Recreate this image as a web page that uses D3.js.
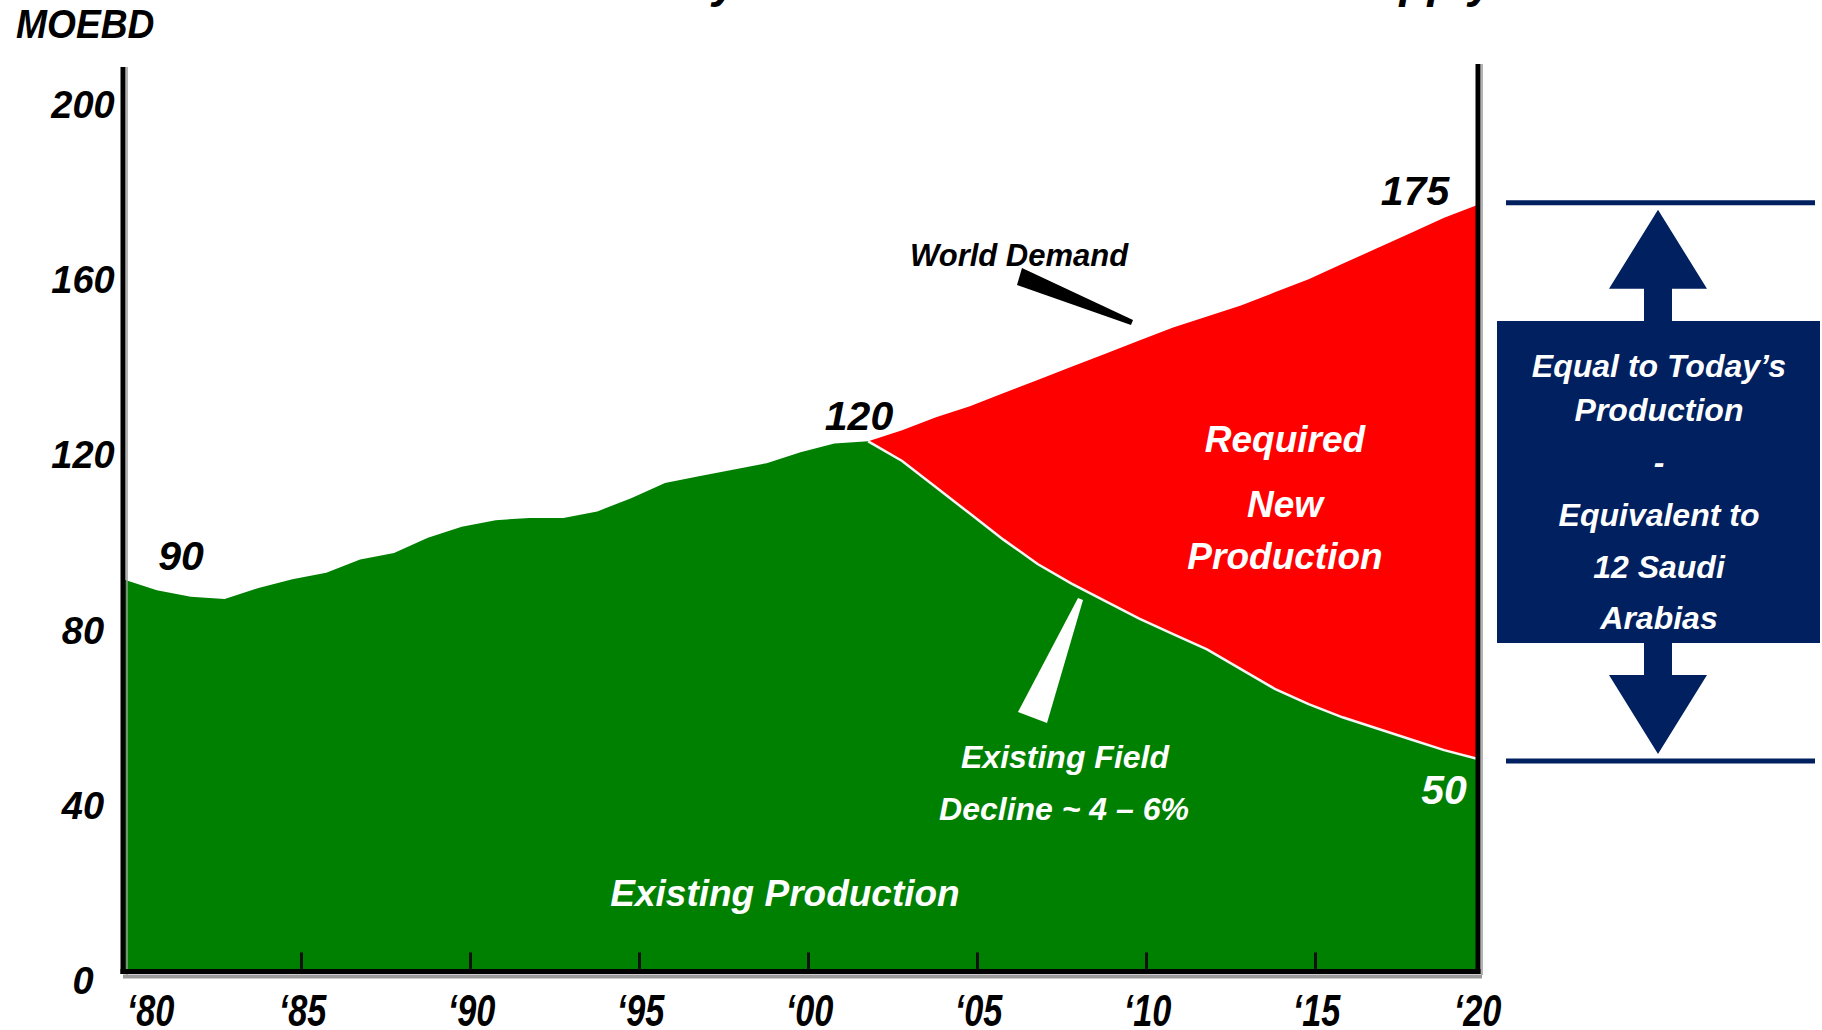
<!DOCTYPE html>
<html>
<head>
<meta charset="utf-8">
<script src="https://cdn.jsdelivr.net/npm/d3@7"></script>
<style>
    body { margin: 0; background: #fff; overflow: hidden; }
    svg { display: block; font-family: 'Liberation Sans', Arial, sans-serif; font-weight: bold; font-style: italic; }
</style>
</head>
<body>
<script>
// world oil-equivalent supply / demand, MOEBD
var years = [1980, 1981, 1982, 1983, 1984, 1985, 1986, 1987, 1988, 1989,
    1990, 1991, 1992, 1993, 1994, 1995, 1996, 1997, 1998, 1999,
    2000, 2001, 2002, 2003, 2004, 2005, 2006, 2007, 2008, 2009,
    2010, 2011, 2012, 2013, 2014, 2015, 2016, 2017, 2018, 2019, 2020];
var existing = [89.5, 87, 85.5, 85, 87.5, 89.5, 91, 94, 95.5, 99,
    101.5, 103, 103.5, 103.5, 105, 108, 111.5, 113, 114.5, 116,
    118.5, 120.5, 121, 116.5, 110.5, 104.5, 98.5, 93, 88.5, 84.5,
    80.5, 77, 73.5, 69, 64.5, 61, 58, 55.5, 53, 50.5, 48.5];
var projYears = [2002, 2003, 2004, 2005, 2006, 2007, 2008, 2009, 2010, 2011,
    2012, 2013, 2014, 2015, 2016, 2017, 2018, 2019, 2020];
var demand = [121, 123.5, 126.5, 129, 132, 135, 138, 141, 144, 147,
    149.5, 152, 155, 158, 161.5, 165, 168.5, 172, 175];
var yTicks = [0, 40, 80, 120, 160, 200];
var xTicks = [1980, 1985, 1990, 1995, 2000, 2005, 2010, 2015, 2020];
var xTickLabels = ['‘80', '‘85', '‘90', '‘95', '‘00', '‘05', '‘10', '‘15', '‘20'];
var boxLines = ['Equal to Today’s', 'Production', '-', 'Equivalent to', '12 Saudi', 'Arabias'];

(function () {
    var width = 1822,
        height = 1030,
        green = '#008000',
        red = '#ff0000',
        navy = '#002060',
        svg, x, xTick, y, gap, xAxis, yAxis;

    svg = d3.select('body').append('svg')
        .attr('width', width)
        .attr('height', height);

    x = d3.scaleLinear().domain([1980, 2020]).range([123, 1478]);
    // the category ticks of the original sit a little right of the data
    xTick = d3.scaleLinear().domain([1980, 2020]).range([132, 1484]);
    y = d3.scaleLinear().domain([0, 200]).range([971.4, 95.2]);

    // pair each projected year with the existing-field level under it
    gap = projYears.map(function (yr, i) {
        return { year: yr, lo: existing[years.indexOf(yr)], hi: demand[i] };
    });

    // cut-off title, only the descenders show
    svg.append('text').attr('x', 738).attr('y', -3).attr('text-anchor', 'end')
        .style('font-size', '46px').text('Industry');
    svg.append('text').attr('x', 1494).attr('y', -3).attr('text-anchor', 'end')
        .style('font-size', '46px').text('Supply');

    svg.append('text')
        .attr('transform', 'translate(16,38) scale(0.93,1)')
        .style('font-size', '40px')
        .text('MOEBD');

    // existing production (green)
    svg.append('path')
        .datum(years)
        .attr('fill', green)
        .attr('d', d3.area()
            .x(function (d) { return x(d); })
            .y0(y(0))
            .y1(function (d, i) { return y(existing[i]); }));

    // required new production (red)
    svg.append('path')
        .datum(gap)
        .attr('fill', red)
        .attr('d', d3.area()
            .x(function (d) { return x(d.year); })
            .y0(function (d) { return y(d.lo); })
            .y1(function (d) { return y(d.hi); }));

    svg.append('path')
        .datum(gap)
        .attr('fill', 'none')
        .attr('stroke', '#f4f4f4')
        .attr('stroke-width', 2.5)
        .attr('d', d3.line()
            .x(function (d) { return x(d.year); })
            .y(function (d) { return y(d.lo); }));

    // axes
    xAxis = svg.append('g')
        .attr('transform', 'translate(0,' + y(0) + ')')
        .call(d3.axisBottom(xTick).tickValues(xTicks).tickSizeInner(-19).tickSizeOuter(0)
            .tickFormat(function (d, i) { return xTickLabels[i]; }));
    xAxis.select('.domain').remove();
    xAxis.selectAll('.tick line')
        .attr('stroke', '#111')
        .attr('stroke-width', 3)
        .attr('display', function (d, i) { return (i === 0 || i === xTicks.length - 1) ? 'none' : null; });
    xAxis.selectAll('.tick text')
        .attr('dy', null)
        .attr('y', 55)
        .attr('x', function (d, i) {
            var dx = i === 0 ? 18 : (i === xTicks.length - 1 ? -7 : 1);
            return dx / 0.78;
        })
        .attr('transform', 'scale(0.78,1)')
        .attr('text-anchor', 'middle')
        .attr('fill', '#000')
        .style('font-size', '44px');

    yAxis = svg.append('g')
        .attr('transform', 'translate(' + x(1980) + ',0)')
        .call(d3.axisLeft(y).tickValues(yTicks).tickSize(0));
    yAxis.select('.domain').remove();
    yAxis.selectAll('.tick text')
        .attr('x', -40)
        .attr('y', 10)
        .attr('text-anchor', 'middle')
        .attr('fill', '#000')
        .style('font-size', '38px');

    // frame lines with their grey drop shadow
    svg.append('line').attr('x1', 127).attr('x2', 127).attr('y1', 67).attr('y2', 975)
        .attr('stroke', '#9a9a9a').attr('stroke-width', 1.5);
    svg.append('line').attr('x1', 1482).attr('x2', 1482).attr('y1', 64).attr('y2', 975)
        .attr('stroke', '#9a9a9a').attr('stroke-width', 1.5);
    svg.append('line').attr('x1', 123).attr('x2', 1482).attr('y1', y(0) + 5).attr('y2', y(0) + 5)
        .attr('stroke', '#9a9a9a').attr('stroke-width', 4);
    svg.append('line').attr('x1', 123).attr('x2', 123).attr('y1', 67).attr('y2', y(0) + 2.5)
        .attr('stroke', '#000').attr('stroke-width', 5);
    svg.append('line').attr('x1', 1478).attr('x2', 1478).attr('y1', 64).attr('y2', y(0) + 2.5)
        .attr('stroke', '#000').attr('stroke-width', 5);
    svg.append('line').attr('x1', 120.5).attr('x2', 1480.5).attr('y1', y(0)).attr('y2', y(0))
        .attr('stroke', '#000').attr('stroke-width', 5);

    // value call-outs
    function label(tx, ty, str, size, fill, anchor) {
        return svg.append('text')
            .attr('x', tx)
            .attr('y', ty)
            .attr('text-anchor', anchor || 'middle')
            .attr('fill', fill)
            .style('font-size', size + 'px')
            .text(str);
    }
    label(181, 570, '90', 41, '#000');
    label(859, 430, '120', 41, '#000');
    label(1415, 205, '175', 41, '#000');
    label(1444, 804, '50', 41, '#fff');

    label(910, 266, 'World Demand', 31, '#000', 'start');
    svg.append('polygon')
        .attr('points', '1022,268 1133,320 1131,325 1017,285')
        .attr('fill', '#000');

    label(1285, 452, 'Required', 37, '#fff');
    label(1285, 517, 'New', 37, '#fff');
    label(1285, 569, 'Production', 37, '#fff');

    svg.append('polygon')
        .attr('points', '1078,598 1083,600 1047,723 1018,712')
        .attr('fill', '#fff');
    label(1065, 768, 'Existing Field', 32, '#fff');
    label(1064, 820, 'Decline ~ 4 – 6%', 32, '#fff');
    label(785, 906, 'Existing Production', 37, '#fff');

    // bracket on the right: gap between demand and existing in 2020
    var top = y(demand[demand.length - 1]) - 2,
        bot = y(existing[existing.length - 1]) + 2,
        cx = 1658;
    svg.append('line').attr('x1', 1506).attr('x2', 1815).attr('y1', top).attr('y2', top)
        .attr('stroke', navy).attr('stroke-width', 5);
    svg.append('line').attr('x1', 1506).attr('x2', 1815).attr('y1', bot).attr('y2', bot)
        .attr('stroke', navy).attr('stroke-width', 5);
    svg.append('polygon')
        .attr('points', [[cx, top + 7], [cx + 49, top + 86], [cx + 14, top + 86], [cx + 14, 330],
            [cx - 14, 330], [cx - 14, top + 86], [cx - 49, top + 86]].join(' '))
        .attr('fill', navy);
    svg.append('polygon')
        .attr('points', [[cx, bot - 7], [cx + 49, bot - 86], [cx + 14, bot - 86], [cx + 14, 630],
            [cx - 14, 630], [cx - 14, bot - 86], [cx - 49, bot - 86]].join(' '))
        .attr('fill', navy);
    svg.append('rect')
        .attr('x', 1497).attr('y', 321)
        .attr('width', 323).attr('height', 322)
        .attr('fill', navy);

    svg.selectAll('.box-line')
        .data(boxLines)
        .enter().append('text')
        .attr('class', 'box-line')
        .attr('x', 1659)
        .attr('y', function (d, i) { return [377, 421, 473, 526, 578, 629][i]; })
        .attr('text-anchor', 'middle')
        .attr('fill', '#fff')
        .style('font-size', '32px')
        .text(function (d) { return d; });
}());
</script>
</body>
</html>
